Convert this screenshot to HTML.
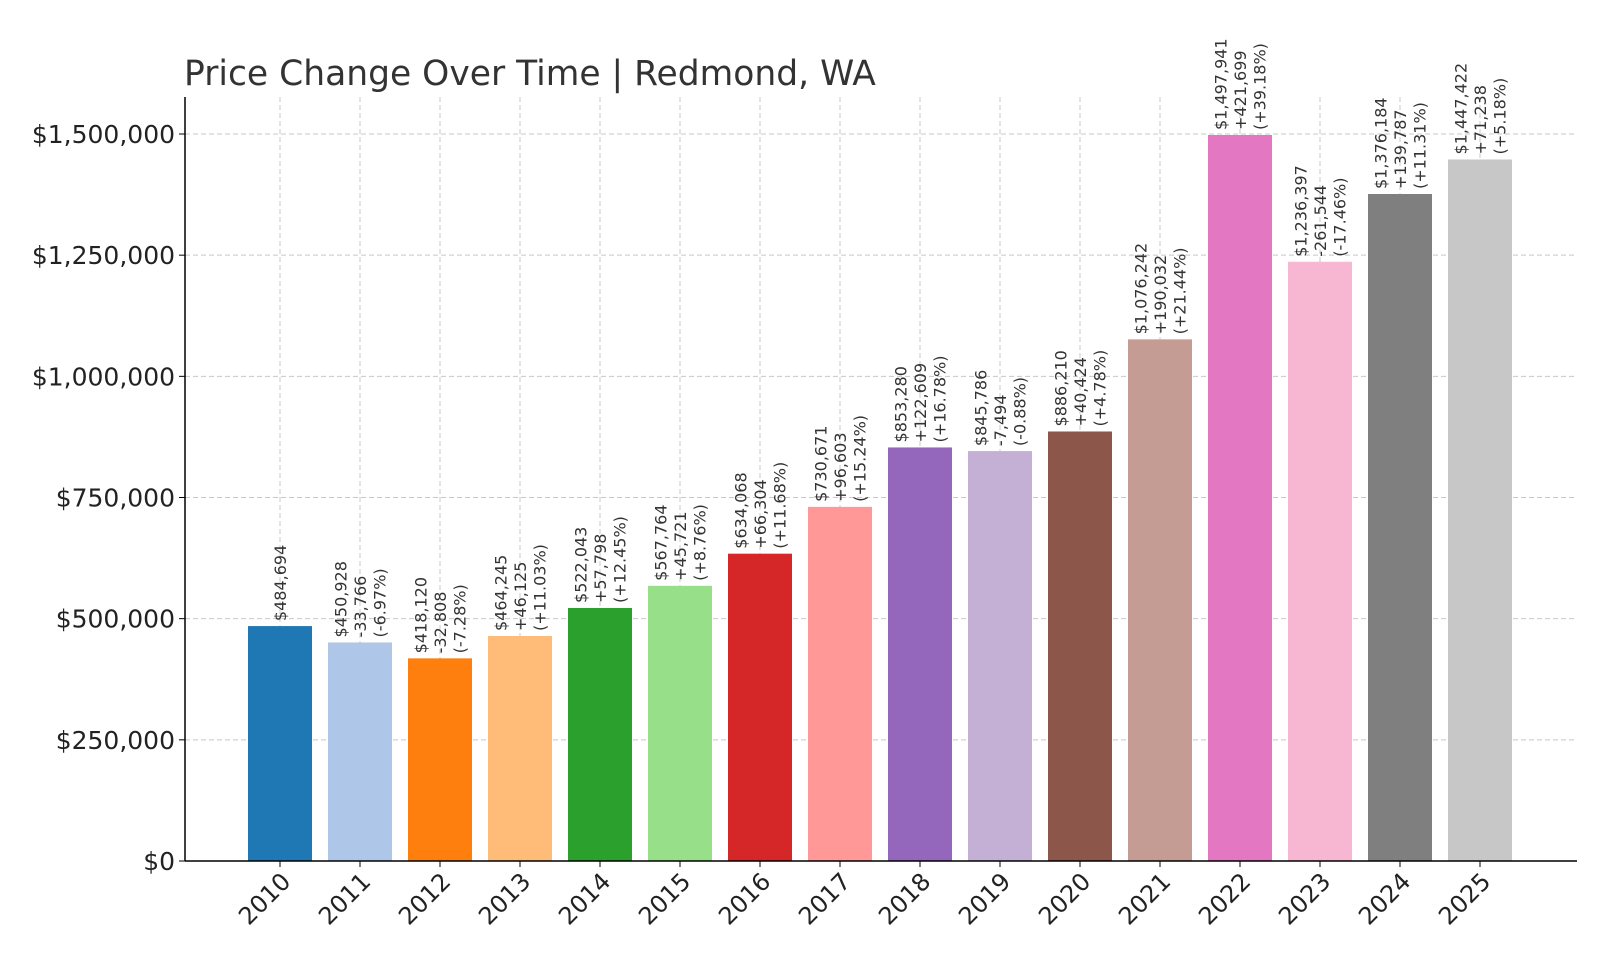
<!DOCTYPE html>
<html><head><meta charset="utf-8"><style>
html,body{margin:0;padding:0;background:#fff;}
svg{display:block;font-family:"DejaVu Sans","Liberation Sans",sans-serif;}
</style></head><body>
<svg id="chart" width="1600" height="960" viewBox="0 0 1600 960">
<text x="184" y="85" font-size="34.5" fill="#333">Price Change Over Time | Redmond, WA</text>
<g id="grid"></g>
<g id="bars"></g>
<g id="labels"></g>
<g id="axes"></g>
</svg>
<script>
const years = ["2010","2011","2012","2013","2014","2015","2016","2017","2018","2019","2020","2021","2022","2023","2024","2025"];
const values = [484694,450928,418120,464245,522043,567764,634068,730671,853280,845786,886210,1076242,1497941,1236397,1376184,1447422];
const changes = ["","-33,766","-32,808","+46,125","+57,798","+45,721","+66,304","+96,603","+122,609","-7,494","+40,424","+190,032","+421,699","-261,544","+139,787","+71,238"];
const pcts = ["","(-6.97%)","(-7.28%)","(+11.03%)","(+12.45%)","(+8.76%)","(+11.68%)","(+15.24%)","(+16.78%)","(-0.88%)","(+4.78%)","(+21.44%)","(+39.18%)","(-17.46%)","(+11.31%)","(+5.18%)"];
const yTicks = [0,250000,500000,750000,1000000,1250000,1500000];
const yTickLabels = ["$0","$250,000","$500,000","$750,000","$1,000,000","$1,250,000","$1,500,000"];
const colors = ["#1f77b4","#aec7e8","#ff7f0e","#ffbb78","#2ca02c","#98df8a","#d62728","#ff9896","#9467bd","#c5b0d5","#8c564b","#c49c94","#e377c2","#f7b6d2","#7f7f7f","#c7c7c7"];
const NS="http://www.w3.org/2000/svg";
const x0=185,x1=1577,yBase=861,yTop=97;
function yScale(v){return yBase-(v/1500000)*(861-134);}
function xScale(i){return 280+i*80;}
const bw=64;
function mk(tag,attrs,parent){const e=document.createElementNS(NS,tag);for(const k in attrs)e.setAttribute(k,attrs[k]);parent.appendChild(e);return e;}
const grid=document.getElementById('grid'),bars=document.getElementById('bars'),labels=document.getElementById('labels'),axes=document.getElementById('axes');
yTicks.forEach((t,i)=>{
  const y=yScale(t);
  const l=mk('line',{x1:x0,x2:x1,y1:y,y2:y,stroke:'#c8c8c8','stroke-dasharray':'5,3','stroke-width':1},grid);
  
  
  const tk=mk('line',{x1:x0-6,x2:x0,y1:y,y2:y,stroke:'#000'},axes);
  
  
  const tx=mk('text',{x:x0-10,y:y+9,'text-anchor':'end','font-size':25,fill:'#222'},axes);
  tx.textContent=yTickLabels[i];
  
  
});
years.forEach((yr,i)=>{
  const cx=xScale(i);
  const g=mk('line',{x1:cx,x2:cx,y1:yTop,y2:yBase,stroke:'#c8c8c8','stroke-dasharray':'5,3','stroke-width':1},grid);
  
  
  const yt=yScale(values[i]);
  const r=mk('rect',{x:cx-bw/2,y:yt,width:bw,height:yBase-yt,fill:colors[i]},bars);
  
  
  const lines=["$"+values[i].toLocaleString('en-US')];
  if(changes[i])lines.push(changes[i],pcts[i]);
  const n=lines.length, step=19.5;
  lines.forEach((s,j)=>{
    const lx=cx+(j-(n-1)/2)*step+6, ly=yt-5;
    const t=mk('text',{x:0,y:0,transform:`translate(${lx},${ly}) rotate(-90)`,'font-size':16,fill:'#333'},labels);
    t.textContent=s;
    
    
  });
  const tk=mk('line',{x1:cx,x2:cx,y1:yBase,y2:yBase+6,stroke:'#000'},axes);
  
  
  const tx=mk('text',{x:0,y:0,transform:`translate(${cx+12},${yBase+22}) rotate(-45)`,'text-anchor':'end','font-size':24,fill:'#222'},axes);
  tx.textContent=yr;
  
  
});
const ly=mk('line',{x1:x0,x2:x0,y1:yTop,y2:yBase,stroke:'#000','stroke-width':1.5},axes);


const lx=mk('line',{x1:x0,x2:x1,y1:yBase,y2:yBase,stroke:'#000','stroke-width':1.5},axes);


</script>
</body></html>
